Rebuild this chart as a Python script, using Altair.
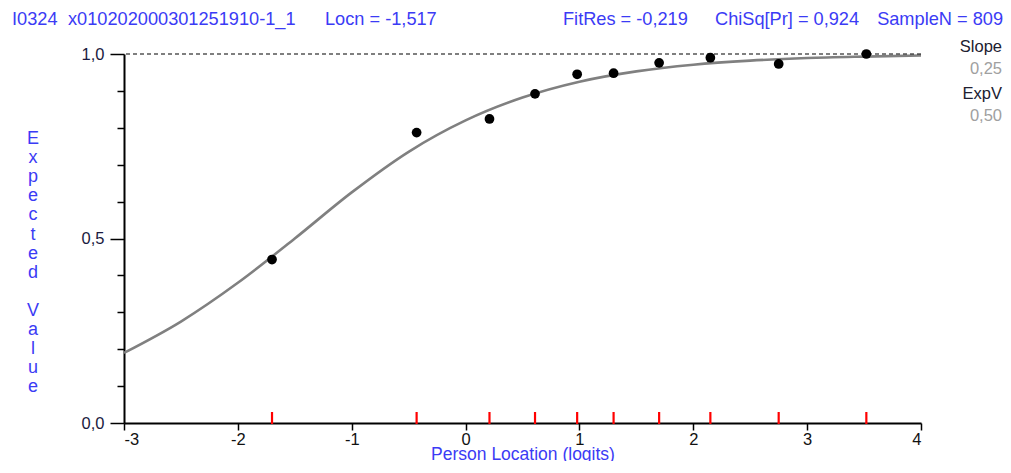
import altair as alt
import pandas as pd

# ICC curve at half-logit steps
curve_x = [-3.0, -2.5, -2.0, -1.5, -1.0, -0.5, 0.0, 0.5, 1.0, 1.5, 2.0, 2.5, 3.0, 3.5, 4.0]
curve_y = [0.19, 0.275, 0.38, 0.50, 0.625, 0.735, 0.82, 0.882, 0.925, 0.953, 0.971, 0.982, 0.989, 0.993, 0.996]

# observed class-interval means
obs_x = [-1.70, -0.43, 0.21, 0.61, 0.98, 1.30, 1.70, 2.15, 2.75, 3.52]
obs_y = [0.443, 0.787, 0.824, 0.892, 0.945, 0.948, 0.976, 0.990, 0.973, 1.0]

x_ticks = [-3, -2, -1, 0, 1, 2, 3, 4]
y_ticks = [0.0, 0.1, 0.2, 0.3, 0.4, 0.5, 0.6, 0.7, 0.8, 0.9, 1.0]

header_left = ["I0324", "x010202000301251910-1_1", "Locn = -1,517"]
header_right = ["FitRes = -0,219", "ChiSq[Pr] = 0,924", "SampleN = 809"]
side_labels = ["Slope", "0,25", "ExpV", "0,50"]
y_title_1 = "\n".join("Expected")
y_title_2 = "\n".join("Value")
x_title = "Person Location (logits)"

FONT = "Liberation Sans"
BLUE = "#3b3bf5"
W, H = 797, 369
OX, OY = 124, 54  # page position of plot origin
SVG_W = 995

curve_df = pd.DataFrame({"x": curve_x, "y": curve_y})
obs_df = pd.DataFrame({"x": obs_x, "y": obs_y})

xs = alt.Scale(domain=[-3, 4], nice=False, zero=False)
ys = alt.Scale(domain=[0, 1], nice=False, zero=False)

major = "abs(datum.value*2 - round(datum.value*2)) < 0.001"

x_axis = alt.Axis(
    values=x_ticks, labelExpr="toString(datum.value)", grid=False,
    labelOverlap=False,
    domainColor="#000000", domainWidth=2,
    tickColor="#000000", tickWidth=1.5, tickSize=7,
    labelColor="#111111", labelFont=FONT, labelFontSize=16.5, labelPadding=1,
    title=x_title, titleColor=BLUE, titleFont=FONT, titleFontSize=17.5,
    titleFontWeight="normal", titleBaseline="alphabetic", titleY=36,
)
y_axis = alt.Axis(
    values=y_ticks, grid=False, labelOverlap=False,
    domainColor="#000000", domainWidth=2,
    tickColor="#000000", tickWidth=1.5,
    tickSize={"condition": {"test": major, "value": 14}, "value": 7},
    labelExpr=major + " ? replace(format(datum.value, '.1f'), '.', ',') : ''",
    labelColor="#1a1a40", labelFont=FONT, labelFontSize=16.5, labelPadding=6,
    title=None,
)

X = alt.X("x:Q", scale=xs, axis=x_axis)
Y = alt.Y("y:Q", scale=ys, axis=y_axis)

curve = alt.Chart(curve_df).mark_line(
    color="#808080", strokeWidth=2.6, interpolate="monotone"
).encode(x=X, y=Y)

dash = alt.Chart(pd.DataFrame({"y": [1.0]})).mark_rule(
    color="#000000", strokeDash=[4, 3], strokeWidth=1.2
).encode(y=Y)

points = alt.Chart(obs_df).mark_point(
    filled=True, color="#000000", size=95, opacity=1
).encode(x=X, y=Y)

red_ticks = alt.Chart(obs_df).mark_rule(color="#ff0000", strokeWidth=2.2).encode(
    x=X, y=alt.value(H - 11), y2=alt.value(H + 1)
)


def label(text, px, py, color, size, align="left", baseline="middle", line_height=None):
    kw = dict(align=align, baseline=baseline, font=FONT, fontSize=size, color=color)
    if line_height is not None:
        kw.update(lineBreak="\n", lineHeight=line_height)
    return alt.Chart(pd.DataFrame({"t": [text]})).mark_text(**kw).encode(
        text="t:N", x=alt.value(px - OX), y=alt.value(py - OY)
    )


HF = 18.2
texts = [
    label(header_left[0], 12, 20, BLUE, HF),
    label(header_left[1], 68, 20, BLUE, HF),
    label(header_left[2], 325, 20, BLUE, HF),
    label(header_right[0], 563, 20, BLUE, HF),
    label(header_right[1], 715, 20, BLUE, HF),
    label(header_right[2], 1003, 20, BLUE, HF, "right"),
    label(side_labels[0], 1002, 47, "#202030", 16.5, "right"),
    label(side_labels[1], 1002, 69, "#a0a0a0", 16.5, "right"),
    label(side_labels[2], 1002, 94, "#202030", 16.5, "right"),
    label(side_labels[3], 1002, 116, "#a0a0a0", 16.5, "right"),
    label(y_title_1, 33, 130, BLUE, 18, "center", "top", 19.1),
    label(y_title_2, 33, 130 + 9 * 19.1, BLUE, 18, "center", "top", 19.1),
]

chart = alt.layer(curve, dash, points, red_ticks, *texts).properties(
    width=W, height=H,
    autosize=alt.AutoSizeParams(type="none"),
    padding={"left": OX - 8, "top": OY - 8, "right": SVG_W - (OX - 8) - W, "bottom": 38},
    background="#ffffff",
).configure_view(stroke=None)

chart.save("out.html", embed_options={"renderer": "svg", "actions": False})
